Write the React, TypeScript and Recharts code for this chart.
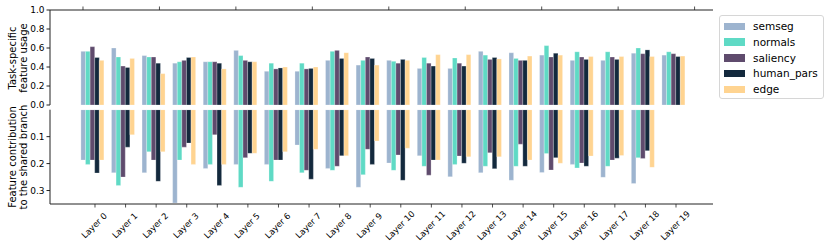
import { BarChart, Bar, XAxis, YAxis } from "recharts"

const layers = [
  "Layer 0", "Layer 1", "Layer 2", "Layer 3", "Layer 4",
  "Layer 5", "Layer 6", "Layer 7", "Layer 8", "Layer 9",
  "Layer 10", "Layer 11", "Layer 12", "Layer 13", "Layer 14",
  "Layer 15", "Layer 16", "Layer 17", "Layer 18", "Layer 19",
]

const tasks = ["semseg", "normals", "saliency", "human_pars", "edge"]
const colors = ["#9db4cf", "#5fdac5", "#5f4b6d", "#13293d", "#ffd491"]

// task-specific feature usage (top panel)
const semsegUsage = [0.565, 0.6, 0.52, 0.44, 0.455, 0.575, 0.355, 0.355, 0.47, 0.42, 0.47, 0.385, 0.385, 0.565, 0.55, 0.525, 0.47, 0.47, 0.545, 0.525]
const normalsUsage = [0.565, 0.505, 0.505, 0.455, 0.455, 0.52, 0.44, 0.44, 0.565, 0.47, 0.46, 0.5, 0.495, 0.525, 0.49, 0.625, 0.56, 0.56, 0.6, 0.56]
const saliencyUsage = [0.614, 0.41, 0.505, 0.47, 0.455, 0.47, 0.38, 0.38, 0.575, 0.505, 0.44, 0.44, 0.44, 0.48, 0.47, 0.505, 0.505, 0.505, 0.54, 0.54]
const humanUsage = [0.5, 0.395, 0.44, 0.5, 0.44, 0.455, 0.39, 0.385, 0.49, 0.49, 0.48, 0.41, 0.41, 0.5, 0.47, 0.545, 0.48, 0.48, 0.58, 0.51]
const edgeUsage = [0.47, 0.49, 0.33, 0.505, 0.38, 0.455, 0.4, 0.4, 0.55, 0.42, 0.47, 0.53, 0.53, 0.485, 0.515, 0.525, 0.51, 0.51, 0.51, 0.515]

// contribution to the shared branch (bottom panel, inverted)
const semsegContrib = [0.187, 0.234, 0.234, 0.346, 0.218, 0.203, 0.203, 0.131, 0.218, 0.288, 0.198, 0.171, 0.249, 0.234, 0.262, 0.233, 0.203, 0.251, 0.274, 0]
const normalsContrib = [0.203, 0.281, 0.156, 0.187, 0.203, 0.288, 0.266, 0.234, 0.225, 0.241, 0.225, 0.21, 0.203, 0.21, 0.21, 0.163, 0.216, 0.21, 0.178, 0]
const saliencyContrib = [0.187, 0.25, 0.187, 0.139, 0.093, 0.178, 0.187, 0.225, 0.21, 0.147, 0.168, 0.243, 0.172, 0.16, 0.128, 0.224, 0.198, 0.187, 0.181, 0]
const humanContrib = [0.235, 0.139, 0.266, 0.124, 0.281, 0.162, 0.187, 0.258, 0.171, 0.203, 0.262, 0.187, 0.199, 0.219, 0.21, 0.178, 0.21, 0.18, 0.152, 0]
const edgeContrib = [0.187, 0.093, 0.156, 0.203, 0.203, 0.162, 0.156, 0.147, 0.171, 0.116, 0.143, 0.187, 0.175, 0.175, 0.187, 0.199, 0.172, 0.17, 0.214, 0]

const usageRows = layers.map((name, i) => ({
  name,
  semseg: semsegUsage[i],
  normals: normalsUsage[i],
  saliency: saliencyUsage[i],
  human_pars: humanUsage[i],
  edge: edgeUsage[i],
}))

const contribRows = layers.map((name, i) => ({
  name,
  semseg: semsegContrib[i],
  normals: normalsContrib[i],
  saliency: saliencyContrib[i],
  human_pars: humanContrib[i],
  edge: edgeContrib[i],
}))

const FONT = "DejaVu Sans"
const AXIS = "#222"
const BAR = 4.6
const STEP = 30.58
const bandPad = { left: 26.9, right: 24.5 }

// marks on the top spine at 0, 2.5, 5, ... 20 (in layer units)
function TopTick(props: any) {
  const { x, y, index } = props
  const first = x - 2 * BAR
  const marks: number[] = []
  if (index % 5 === 0) marks.push(first)
  if (index % 5 === 2) marks.push(first + STEP / 2)
  if (index === layers.length - 1) marks.push(first + STEP)
  return (
    <g>
      {marks.map((m, k) => (
        <line key={k} x1={m} x2={m} y1={y} y2={y - 3.5} stroke={AXIS} strokeWidth={0.8} />
      ))}
    </g>
  )
}

function LayerTick(props: any) {
  const { x, y, payload } = props
  const mx = x + 2.8
  const cy = y + 21.5
  return (
    <g>
      <line x1={mx} x2={mx} y1={y} y2={y + 3.5} stroke={AXIS} strokeWidth={0.8} />
      <text x={mx - 0.8} y={cy} transform={`rotate(-45, ${mx - 0.8}, ${cy})`} textAnchor="middle" dominantBaseline="central" fontSize={8.5} fontFamily={FONT} fill="#000">
        {payload.value}
      </text>
    </g>
  )
}

function twoLineLabel(lines: string[], cy: number) {
  return () => (
    <g>
      {lines.map((t, k) => (
        <text key={k} x={12 + k * 11} y={cy} transform={`rotate(-90, ${12 + k * 11}, ${cy})`} textAnchor="middle" dominantBaseline="central" fontSize={10} fontFamily={FONT} fill="#000">
          {t}
        </text>
      ))}
    </g>
  )
}

function bars() {
  return tasks.map((t, j) => (
    <Bar key={t} dataKey={t} fill={colors[j]} barSize={BAR} stroke="#ffffff" strokeOpacity={0.5} strokeWidth={0.5} isAnimationActive={false} />
  ))
}

function Legend() {
  return (
    <div style={{ position: "absolute", left: 719, top: 15, width: 103, height: 82, border: "1px solid #d6d6d6", borderRadius: 3, background: "#fff", fontFamily: FONT, fontSize: 10.5 }}>
      {tasks.map((t, j) => (
        <div key={t} style={{ position: "absolute", left: 0, top: 3 + j * 15.8, height: 14, width: "100%" }}>
          <div style={{ position: "absolute", left: 4, top: 3.5, width: 21, height: 7.5, background: colors[j] }} />
          <div style={{ position: "absolute", left: 33, top: 0, lineHeight: "14px", color: "#000" }}>{t}</div>
        </div>
      ))}
    </div>
  )
}

export default function App() {
  return (
    <div style={{ position: "absolute", left: 0, top: 0, width: 830, height: 251, background: "#fff", overflow: "hidden" }}>
      <div style={{ position: "absolute", left: 0, top: 100 }}>
        <BarChart width={830} height={151} data={contribRows} barGap={0} margin={{ top: 9.7, right: 117, left: 0, bottom: 0 }}>
          <XAxis dataKey="name" height={47} padding={bandPad} interval={0} tickSize={0} tickMargin={0} tickLine={false} tick={<LayerTick />} axisLine={{ stroke: AXIS }} />
          <YAxis width={50} reversed domain={[0, 0.35]} allowDataOverflow interval={0} ticks={[0.1, 0.2, 0.3]} tickFormatter={(v: number) => v.toFixed(1)} tickSize={3.5} tick={{ fontSize: 9, fontFamily: FONT, fill: "#000" }} axisLine={{ stroke: AXIS }} tickLine={{ stroke: AXIS }} label={{ content: twoLineLabel(["Feature contribution", "to the shared branch"], 57) }} />
          <YAxis yAxisId="r" orientation="right" width={0} tick={false} tickLine={false} axisLine={{ stroke: AXIS }} />
          {bars()}
        </BarChart>
      </div>
      <div style={{ position: "absolute", left: 0, top: 0 }}>
        <BarChart width={830} height={114} data={usageRows} barGap={0} margin={{ top: 9, right: 117, left: 0, bottom: 9 }}>
          <XAxis dataKey="name" orientation="top" height={1} padding={bandPad} interval={0} tickSize={0} tickMargin={0} tickLine={false} tick={<TopTick />} axisLine={{ stroke: AXIS }} />
          <YAxis width={50} domain={[0, 1]} interval={0} ticks={[0, 0.2, 0.4, 0.6, 0.8, 1]} tickFormatter={(v: number) => v.toFixed(1)} tickSize={3.5} tick={{ fontSize: 9, fontFamily: FONT, fill: "#000" }} axisLine={{ stroke: AXIS }} tickLine={{ stroke: AXIS }} label={{ content: twoLineLabel(["Task-specific", "feature usage"], 58) }} />
          <YAxis yAxisId="r" orientation="right" width={0} tick={false} tickLine={false} axisLine={{ stroke: AXIS }} />
          {bars()}
        </BarChart>
      </div>
      <Legend />
    </div>
  )
}
